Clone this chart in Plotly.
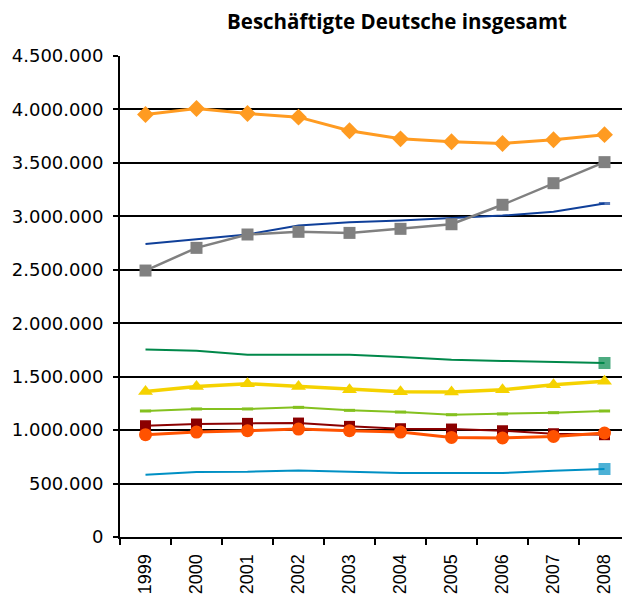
import plotly.graph_objects as go

years = ["1999", "2000", "2001", "2002", "2003", "2004", "2005", "2006", "2007", "2008"]

s_orange = [3953000, 4009000, 3962000, 3928000, 3800000, 3725000, 3698000, 3682000, 3716000, 3764000]
s_gray = [2493000, 2705000, 2830000, 2855000, 2845000, 2883000, 2926000, 3108000, 3310000, 3507000]
s_blue = [2742000, 2783000, 2830000, 2914000, 2945000, 2960000, 2980000, 3007000, 3042000, 3120000]
s_green = [1753000, 1743000, 1706000, 1706000, 1706000, 1684000, 1659000, 1647000, 1634000, 1628000]
s_yellow = [1362000, 1409000, 1434000, 1409000, 1378000, 1360000, 1356000, 1378000, 1425000, 1456000]
s_ygreen = [1179000, 1198000, 1198000, 1213000, 1185000, 1169000, 1144000, 1151000, 1163000, 1179000]
s_darkred = [1041000, 1057000, 1063000, 1066000, 1035000, 1013000, 1010000, 994000, 966000, 957000]
s_orangered = [957000, 982000, 994000, 1010000, 994000, 982000, 932000, 926000, 941000, 973000]
s_lightblue = [582000, 608000, 610000, 623000, 610000, 598000, 598000, 598000, 620000, 636000]

y_ticks = [0, 500000, 1000000, 1500000, 2000000, 2500000, 3000000, 3500000, 4000000, 4500000]

fig = go.Figure()

def end_only(n, size):
    return [0] * (n - 1) + [size]

n = len(years)

fig.add_trace(go.Scatter(x=years, y=s_blue, mode="lines+markers",
                         line=dict(color="#0F3F99", width=2),
                         marker=dict(symbol="line-ew", size=end_only(n, 8),
                                     line=dict(color="#0F3F99", width=3))))
fig.add_trace(go.Scatter(x=years, y=s_gray, mode="lines+markers",
                         line=dict(color="#808080", width=2.5),
                         marker=dict(symbol="square", size=12, color="#808080")))
fig.add_trace(go.Scatter(x=years, y=s_orange, mode="lines+markers",
                         line=dict(color="#FF9B21", width=3),
                         marker=dict(symbol="diamond", size=13, color="#FF9B21")))
fig.add_trace(go.Scatter(x=years, y=s_green, mode="lines+markers",
                         line=dict(color="#00884A", width=2),
                         marker=dict(symbol="square", size=end_only(n, 12), color="#00884A",
                                     line=dict(width=0))))
fig.add_trace(go.Scatter(x=years, y=s_yellow, mode="lines+markers",
                         line=dict(color="#F5D200", width=3.5),
                         marker=dict(symbol="triangle-up", size=13, color="#F5D200")))
fig.add_trace(go.Scatter(x=years, y=s_ygreen, mode="lines+markers",
                         line=dict(color="#84C11F", width=2),
                         marker=dict(symbol="line-ew", size=8,
                                     line=dict(color="#84C11F", width=3))))
fig.add_trace(go.Scatter(x=years, y=s_darkred, mode="lines+markers",
                         line=dict(color="#8B0000", width=2),
                         marker=dict(symbol="square", size=11, color="#8B0000")))
fig.add_trace(go.Scatter(x=years, y=s_orangered, mode="lines+markers",
                         line=dict(color="#FF5200", width=3),
                         marker=dict(symbol="circle", size=13, color="#FF5200")))
fig.add_trace(go.Scatter(x=years, y=s_lightblue, mode="lines+markers",
                         line=dict(color="#0090C4", width=2),
                         marker=dict(symbol="square", size=end_only(n, 12), color="#0090C4",
                                     line=dict(width=0))))

W, H = 622, 597
fig.update_layout(
    width=W, height=H,
    margin=dict(l=112, r=0, t=48, b=68),
    paper_bgcolor="white", plot_bgcolor="white",
    showlegend=False,
    separators=",.",
    title=dict(text="<b>Beschäftigte Deutsche insgesamt</b>",
               x=389 / W, xanchor="center", xref="container",
               y=1 - 14 / H, yanchor="middle", yref="container",
               font=dict(family="Open Sans", size=20.5, color="black")),
    xaxis=dict(type="category", range=[-0.5, 9.5],
               showline=True, linecolor="black", linewidth=2,
               ticks="outside", tickson="boundaries", ticklen=6, tickcolor="black", tickwidth=1.5,
               tickangle=-90, tickfont=dict(family="Liberation Sans", size=18, color="black"),
               ticklabelstandoff=8, showgrid=False, zeroline=False),
    yaxis=dict(range=[0, 4500000], tickvals=y_ticks, tickformat=",d",
               showline=True, linecolor="black", linewidth=2,
               ticks="outside", ticklen=5, tickcolor="black", tickwidth=1.5,
               tickfont=dict(family="DejaVu Sans", size=18, color="black"),
               ticklabelstandoff=6,
               showgrid=True, gridcolor="black", gridwidth=2, zeroline=False),
)

fig.write_html("out.html")
